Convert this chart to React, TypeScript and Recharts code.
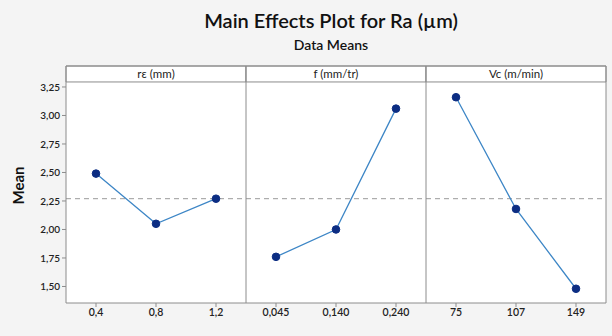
import {
  LineChart,
  Line,
  XAxis,
  YAxis,
  ReferenceLine,
  ReferenceArea,
} from "recharts";

const factors = ["rε (mm)", "f (mm/tr)", "Vc (m/min)"];
const levels = [
  ["0,4", "0,8", "1,2"],
  ["0,045", "0,140", "0,240"],
  ["75", "107", "149"],
];
const rMeans = [2.49, 2.05, 2.27];
const fMeans = [1.76, 2.0, 3.06];
const vcMeans = [3.16, 2.18, 1.48];
const grandMean = 2.27;
const yTicks = [1.5, 1.75, 2.0, 2.25, 2.5, 2.75, 3.0, 3.25];

const series = [rMeans, fMeans, vcMeans];
const keys = ["r", "f", "vc"];
const tickLabels = levels.flat();

const data = tickLabels.map((_, i) => {
  const p = Math.floor(i / 3);
  const row: Record<string, number | null> = { x: i };
  keys.forEach((k, j) => {
    row[k] = j === p ? series[j][i % 3] : null;
  });
  return row;
});

const Y_MIN = 1.355;
const HEADER_Y = 3.294;
const Y_MAX = 3.434;
const frame = "#8c8c8c";
const lineColor = "#3d86c6";
const dotColor = "#0c2d83";
const font = "Lato, 'Open Sans', sans-serif";

export default function App() {
  return (
    <div
      style={{
        position: "fixed",
        left: 0,
        top: 0,
        width: 612,
        height: 336,
        background: "#f4f4f4",
        fontFamily: font,
      }}
    >
      <div style={{ position: "absolute", top: 8, width: 612, textAlign: "center", fontSize: 20, fontWeight: 600, color: "#111", paddingLeft: 50, boxSizing: "border-box" }}>
        Main Effects Plot for Ra (µm)
      </div>
      <div style={{ position: "absolute", top: 36, width: 612, textAlign: "center", fontSize: 14, fontWeight: 600, color: "#111", paddingLeft: 50, boxSizing: "border-box" }}>
        Data Means
      </div>
      <div style={{ position: "absolute", top: 0, left: 0 }}>
        <LineChart
          width={612}
          height={336}
          data={data}
          margin={{ top: 66, right: 6, bottom: 8, left: 30 }}
        >
          <ReferenceArea x1={-0.5} x2={8.5} y1={Y_MIN} y2={Y_MAX} fill="#ffffff" fillOpacity={1} stroke="none" />
          {factors.map((name, i) => (
            <ReferenceArea
              key={name}
              x1={i * 3 - 0.5}
              x2={i * 3 + 2.5}
              y1={HEADER_Y}
              y2={Y_MAX}
              fill="#ffffff"
              fillOpacity={1}
              stroke={frame}
              label={{ value: name, position: "center", fontSize: 11.5, fill: "#222", fontFamily: font }}
            />
          ))}
          <XAxis
            type="number"
            dataKey="x"
            domain={[-0.5, 8.5]}
            ticks={[0, 1, 2, 3, 4, 5, 6, 7, 8]}
            tickFormatter={(v) => tickLabels[v]}
            height={25}
            stroke={frame}
            tickSize={4}
            tick={{ fontSize: 10.5, fill: "#222", fontFamily: font, fontWeight: 600 }}
          />
          <YAxis
            type="number"
            domain={[Y_MIN, Y_MAX]}
            ticks={yTicks}
            tickFormatter={(v) => v.toFixed(2).replace(".", ",")}
            width={36}
            stroke={frame}
            tickSize={4}
            tick={{ fontSize: 10, fill: "#222", fontFamily: font, fontWeight: 600 }}
            label={{ value: "Mean", angle: -90, position: "insideLeft", dx: -16, dy: 20, fontSize: 15, fontWeight: "bold", fill: "#111", fontFamily: font }}
          />
          <ReferenceLine y={grandMean} stroke="#9a9a9a" strokeDasharray="5 4" />
          <ReferenceLine x={2.5} stroke={frame} />
          <ReferenceLine x={5.5} stroke={frame} />
          <ReferenceLine x={8.5} stroke={frame} />
          <ReferenceLine y={Y_MAX} stroke={frame} />
          {keys.map((k) => (
            <Line
              key={k}
              dataKey={k}
              stroke={lineColor}
              strokeWidth={1.3}
              dot={{ r: 3.8, fill: dotColor, stroke: dotColor, strokeWidth: 1 }}
              isAnimationActive={false}
              connectNulls={false}
            />
          ))}
        </LineChart>
      </div>
    </div>
  );
}
